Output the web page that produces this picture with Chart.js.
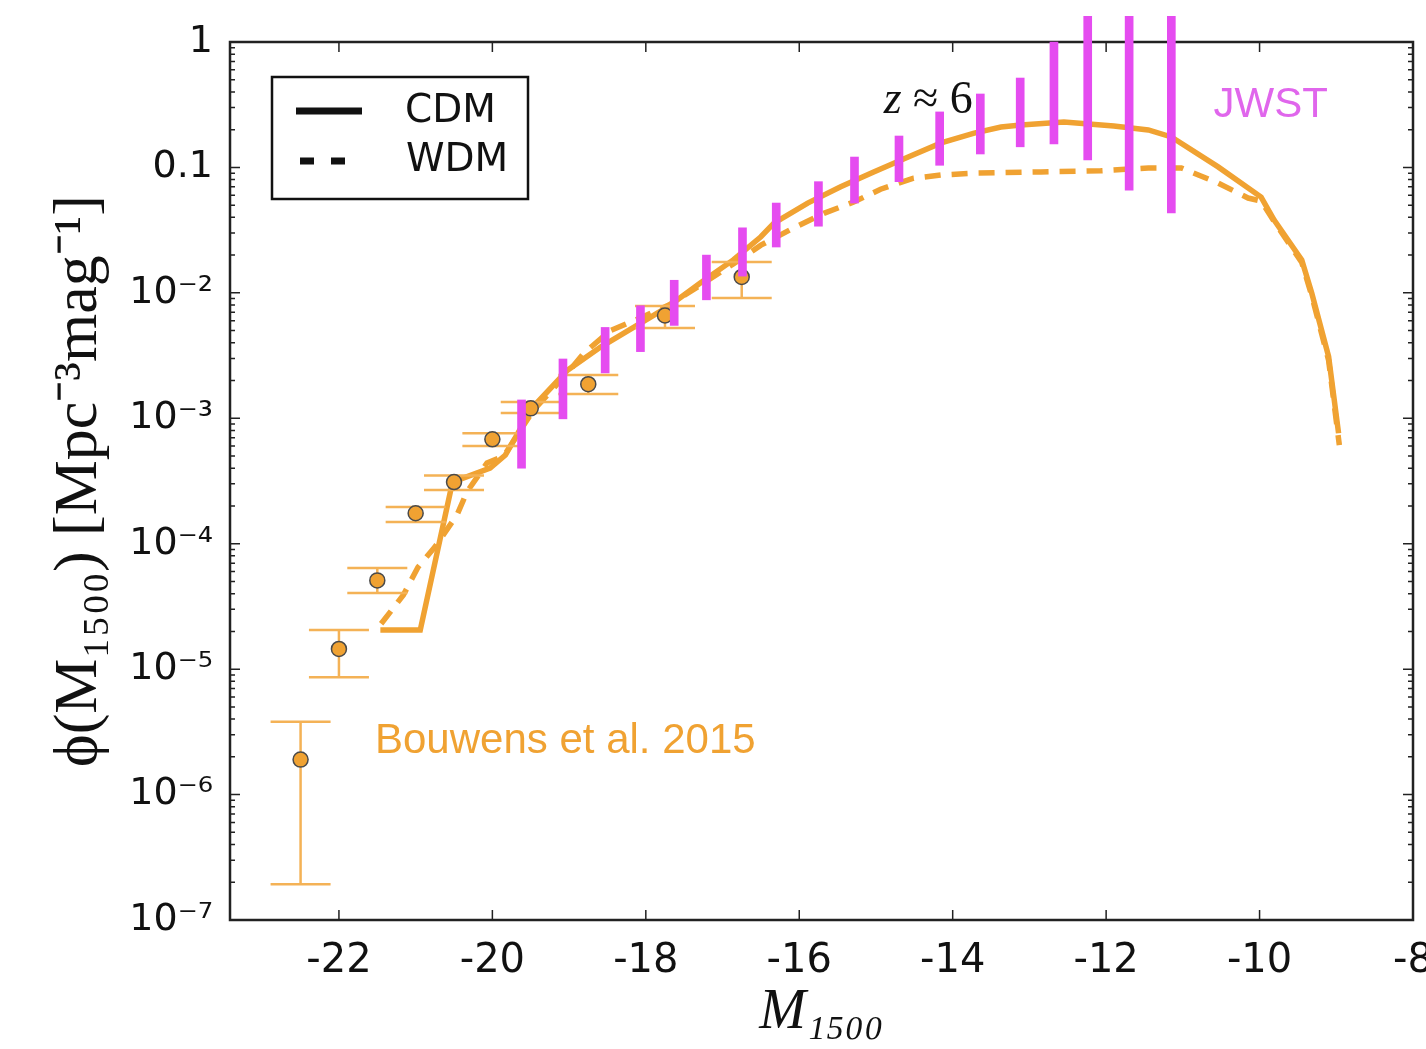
<!DOCTYPE html>
<html>
<head>
<meta charset="utf-8">
<script src="https://cdn.jsdelivr.net/npm/chart.js@4.4.1/dist/chart.umd.min.js"></script>
<style>
  html, body { margin: 0; padding: 0; background: #fff; }
  #wrap { width: 1426px; height: 1049px; }
</style>
</head>
<body>
<div id="wrap"><canvas id="lfChart"></canvas></div>
<script>
// Model curves
const cdmMag = [-21.46, -20.94, -20.52, -20.03, -19.83, -19.47, -19.02, -18.59, -18.16, -17.72, -17.29, -16.86, -16.50, -16.33, -15.89, -15.46, -15.03, -14.58, -14.15, -13.72, -13.37, -13.11, -12.55, -11.90, -11.45, -11.15, -10.54, -9.98, -9.81, -9.45, -9.32, -9.10, -8.97];
const cdmPhi = [2.05e-5, 2.05e-5, 3.1e-4, 4.0e-4, 5.1e-4, 1.23e-3, 2.42e-3, 3.7e-3, 5.3e-3, 7.7e-3, 1.2e-2, 1.83e-2, 2.8e-2, 3.6e-2, 5.2e-2, 7.0e-2, 9.2e-2, 0.121, 0.157, 0.188, 0.21, 0.218, 0.23, 0.214, 0.199, 0.175, 0.101, 0.058, 0.038, 0.0183, 0.00996, 3.1e-3, 7.6e-4];
const wdmMag = [-21.45, -21.16, -20.97, -20.75, -20.46, -20.33, -20.07, -19.85, -19.47, -19.02, -18.81, -18.46, -18.1, -17.7, -17.29, -16.86, -16.5, -16.07, -15.68, -15.29, -14.94, -14.51, -14.15, -13.72, -12.85, -12.07, -11.45, -11.02, -10.54, -10.15, -9.98, -9.81, -9.45, -9.32, -9.10, -8.96];
const wdmPhi = [2.3e-5, 3.9e-5, 6.5e-5, 9.4e-5, 1.7e-4, 2.6e-4, 4.4e-4, 5.0e-4, 1.15e-3, 2.3e-3, 3.3e-3, 5.0e-3, 6.2e-3, 8.0e-3, 1.15e-2, 1.7e-2, 2.4e-2, 3.3e-2, 4.3e-2, 5.3e-2, 6.7e-2, 8.2e-2, 8.7e-2, 9.0e-2, 9.2e-2, 9.4e-2, 9.9e-2, 9.9e-2, 7.5e-2, 5.7e-2, 5.4e-2, 3.7e-2, 1.75e-2, 9.5e-3, 2.9e-3, 6.1e-4];

// Bouwens et al. 2015 points + error bars
const bouwensMag = [-22.5, -22.0, -21.5, -21.0, -20.5, -20.0, -19.5, -18.75, -17.75, -16.75];
const bouwensPhi = [1.9e-6, 1.45e-5, 5.1e-5, 1.75e-4, 3.1e-4, 6.8e-4, 1.2e-3, 1.87e-3, 6.6e-3, 1.34e-2];
const bouwensLo = [1.93e-7, 8.6e-6, 4.04e-5, 1.49e-4, 2.68e-4, 6.0e-4, 1.1e-3, 1.56e-3, 5.24e-3, 9.1e-3];
const bouwensHi = [3.8e-6, 2.05e-5, 6.4e-5, 1.96e-4, 3.5e-4, 7.6e-4, 1.35e-3, 2.21e-3, 7.85e-3, 1.76e-2];

// JWST forecast ranges
const jwstMag = [-19.62, -19.08, -18.53, -18.07, -17.63, -17.21, -16.74, -16.30, -15.75, -15.28, -14.70, -14.17, -13.64, -13.12, -12.68, -12.24, -11.70, -11.15];
const jwstLo = [4.0e-4, 9.9e-4, 2.3e-3, 3.4e-3, 5.5e-3, 8.8e-3, 1.36e-2, 2.32e-2, 3.4e-2, 5.2e-2, 7.7e-2, 0.104, 0.128, 0.146, 0.154, 0.115, 0.066, 0.0433];
const jwstHi = [1.4e-3, 2.97e-3, 5.3e-3, 7.9e-3, 1.26e-2, 2.0e-2, 3.3e-2, 5.2e-2, 7.7e-2, 0.121, 0.178, 0.277, 0.385, 0.516, 1.0, 1.6, 1.6, 1.6];

// Axis ticks
const xTicks = [-22, -20, -18, -16, -14, -12, -10, -8];
const xTickLabels = ['-22', '-20', '-18', '-16', '-14', '-12', '-10', '-8'];
const yTicks = [1e-7, 1e-6, 1e-5, 1e-4, 1e-3, 1e-2, 0.1, 1];
const yTickLabels = ['10⁻⁷', '10⁻⁶', '10⁻⁵', '10⁻⁴', '10⁻³', '10⁻²', '0.1', '1'];

const ORANGE = '#f0a232';
const ORANGE_LIGHT = '#f4b256';
const MAGENTA = '#e54cf0';

const toXY = (xs, ys) => xs.map((v, i) => ({ x: v, y: ys[i] }));

// box, inner ticks
const frame = {
  id: 'frame',
  beforeDatasetsDraw(chart) {
    const { ctx, chartArea: a, scales: { x, y } } = chart;
    ctx.save();
    ctx.strokeStyle = '#222';
    ctx.lineWidth = 2.5;
    ctx.strokeRect(a.left, a.top, a.right - a.left, a.bottom - a.top);
    ctx.lineWidth = 1.5;
    ctx.beginPath();
    xTicks.forEach(v => {
      const px = x.getPixelForValue(v);
      ctx.moveTo(px, a.bottom); ctx.lineTo(px, a.bottom - 10);
      ctx.moveTo(px, a.top); ctx.lineTo(px, a.top + 10);
    });
    yTicks.forEach(v => {
      const py = y.getPixelForValue(v);
      ctx.moveTo(a.left, py); ctx.lineTo(a.left + 10, py);
      ctx.moveTo(a.right, py); ctx.lineTo(a.right - 10, py);
    });
    for (let d = -7; d < 0; d++) {
      for (let m = 2; m < 10; m++) {
        const py = y.getPixelForValue(m * Math.pow(10, d));
        ctx.moveTo(a.left, py); ctx.lineTo(a.left + 5, py);
        ctx.moveTo(a.right, py); ctx.lineTo(a.right - 5, py);
      }
    }
    ctx.stroke();
    ctx.restore();
  }
};

// vertical error bars with wide caps under the Bouwens circles
const errorBars = {
  id: 'errorBars',
  beforeDatasetDraw(chart, args) {
    const ds = chart.data.datasets[args.index];
    if (ds.label !== 'Bouwens et al. 2015') return;
    const { ctx, scales: { x, y } } = chart;
    ctx.save();
    ctx.strokeStyle = ORANGE_LIGHT;
    ctx.lineWidth = 2.5;
    ctx.beginPath();
    bouwensMag.forEach((m, i) => {
      const px = x.getPixelForValue(m);
      const lo = y.getPixelForValue(bouwensLo[i]);
      const hi = y.getPixelForValue(bouwensHi[i]);
      ctx.moveTo(px, lo); ctx.lineTo(px, hi);
      ctx.moveTo(px - 30, lo); ctx.lineTo(px + 30, lo);
      ctx.moveTo(px - 30, hi); ctx.lineTo(px + 30, hi);
    });
    ctx.stroke();
    ctx.restore();
  }
};

// legend box and text labels
const notes = {
  id: 'notes',
  afterDraw(chart) {
    const { ctx, chartArea: a, scales: { x, y } } = chart;
    ctx.save();
    // legend
    const lx = a.left + 42, ly = a.top + 35, lw = 256, lh = 122;
    ctx.fillStyle = '#fff';
    ctx.fillRect(lx, ly, lw, lh);
    ctx.strokeStyle = '#111';
    ctx.lineWidth = 2.5;
    ctx.strokeRect(lx, ly, lw, lh);
    ctx.lineWidth = 7;
    ctx.beginPath();
    ctx.moveTo(lx + 24, ly + 34); ctx.lineTo(lx + 90, ly + 34);
    ctx.stroke();
    ctx.setLineDash([14, 17]);
    ctx.beginPath();
    ctx.moveTo(lx + 28, ly + 84); ctx.lineTo(lx + 76, ly + 84);
    ctx.stroke();
    ctx.setLineDash([]);
    ctx.fillStyle = '#111';
    ctx.font = '39px "DejaVu Sans"';
    ctx.textBaseline = 'middle';
    ctx.fillText('CDM', lx + 133, ly + 35);
    ctx.fillText('WDM', lx + 134, ly + 84);

    // z ≈ 6
    let tx = x.getPixelForValue(-14.9), ty = y.getPixelForValue(0.339);
    ctx.font = 'italic 46px "Liberation Serif"';
    ctx.fillText('z', tx, ty);
    tx += ctx.measureText('z ').width;
    ctx.font = '46px "Liberation Serif"';
    ctx.fillText('≈ 6', tx, ty);

    ctx.font = '42px "Liberation Sans"';
    ctx.fillStyle = '#e066ec';
    ctx.fillText('JWST', x.getPixelForValue(-10.6), y.getPixelForValue(0.315));
    ctx.fillStyle = ORANGE;
    ctx.fillText('Bouwens et al. 2015', x.getPixelForValue(-21.53), y.getPixelForValue(2.67e-6));
    ctx.restore();
  }
};

new Chart(document.getElementById('lfChart'), {
  type: 'scatter',
  data: {
    datasets: [
      {
        type: 'bar',
        label: 'JWST',
        data: jwstMag.map((m, i) => ({ x: m, y: [jwstLo[i], jwstHi[i]] })),
        backgroundColor: MAGENTA,
        borderWidth: 0,
        barThickness: 8,
        clip: false,
        order: 0
      },
      {
        type: 'scatter',
        label: 'Bouwens et al. 2015',
        data: toXY(bouwensMag, bouwensPhi),
        backgroundColor: ORANGE,
        borderColor: '#4a4a4a',
        borderWidth: 1.5,
        pointRadius: 7.5,
        order: 1
      },
      {
        type: 'line',
        label: 'CDM',
        data: toXY(cdmMag, cdmPhi),
        borderColor: ORANGE,
        borderWidth: 5.5,
        pointRadius: 0,
        tension: 0,
        order: 2
      },
      {
        type: 'line',
        label: 'WDM',
        data: toXY(wdmMag, wdmPhi),
        borderColor: ORANGE,
        borderWidth: 5.5,
        borderDash: [16, 11],
        pointRadius: 0,
        tension: 0,
        order: 3
      }
    ]
  },
  options: {
    responsive: true,
    maintainAspectRatio: false,
    animation: false,
    layout: { padding: { top: 42, right: 13, left: 0, bottom: 0 } },
    plugins: {
      legend: { display: false },
      tooltip: { enabled: false }
    },
    scales: {
      x: {
        type: 'linear',
        min: -23.42,
        max: -8,
        offset: false,
        grid: { display: false, drawTicks: false },
        border: { display: false },
        afterBuildTicks: s => { s.ticks = xTicks.map(v => ({ value: v })); },
        afterFit: s => { s.height = 129; s.paddingLeft = 0; s.paddingRight = 0; },
        ticks: {
          padding: 18,
          maxRotation: 0,
          color: '#111',
          font: { family: 'DejaVu Sans', size: 40 },
          callback: v => xTickLabels[xTicks.indexOf(v)]
        },
        title: {
          display: true,
          text: 'M₁₅₀₀',
          color: '#111',
          font: { family: 'Liberation Serif', size: 56, style: 'italic' },
          padding: { top: 0, bottom: 2 }
        }
      },
      y: {
        type: 'logarithmic',
        min: 1e-7,
        max: 1,
        grid: { display: false, drawTicks: false },
        border: { display: false },
        afterBuildTicks: s => { s.ticks = yTicks.map(v => ({ value: v })); },
        afterFit: s => { s.width = 230; s.paddingTop = 0; s.paddingBottom = 0; },
        ticks: {
          padding: 17,
          color: '#111',
          font: { family: 'DejaVu Sans', size: 38 },
          callback: v => yTickLabels[yTicks.indexOf(v)]
        },
        title: {
          display: true,
          text: 'ϕ(M₁₅₀₀) [Mpc⁻³mag⁻¹]',
          color: '#111',
          font: { family: 'Liberation Serif', size: 62 },
          padding: { top: 43, bottom: 0 }
        }
      }
    }
  },
  plugins: [frame, errorBars, notes]
});
</script>
</body>
</html>
